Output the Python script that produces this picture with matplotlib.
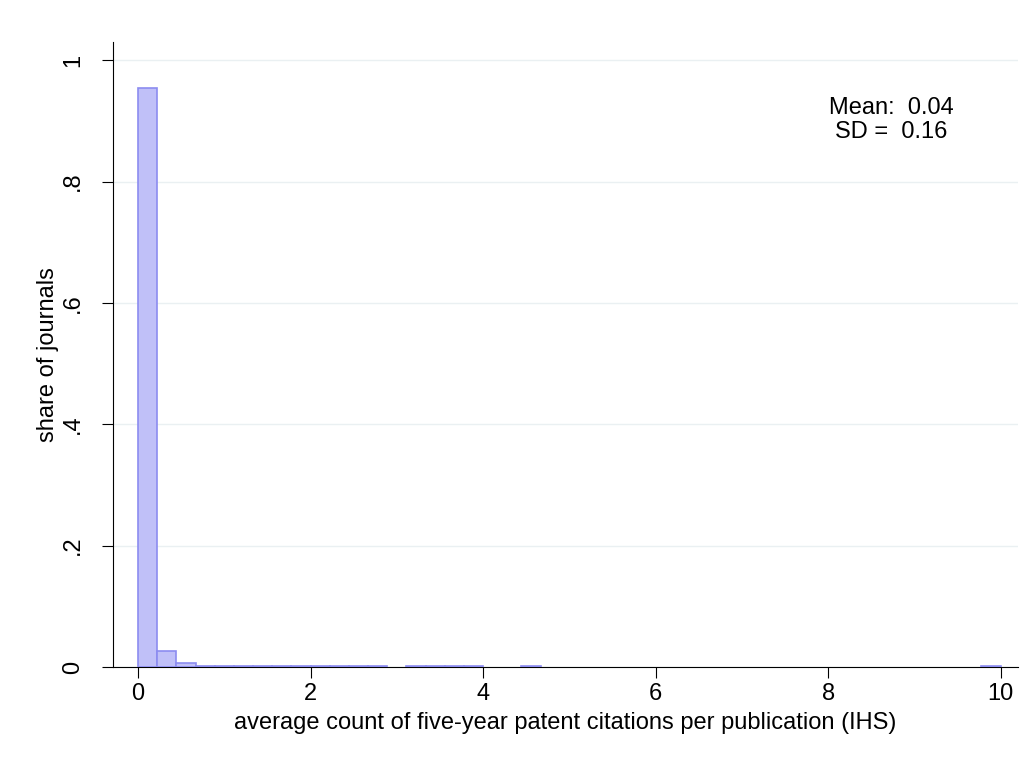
import numpy as np
import matplotlib.pyplot as plt

plt.rcParams['font.family'] = ['Liberation Sans', 'DejaVu Sans']

bin_width = 0.2222
bin_index = [0, 1, 2, 3, 4, 5, 6, 7, 8, 9, 10, 11, 12, 14, 15, 16, 17, 20, 44]
shares = [0.955, 0.026, 0.006, 0.002, 0.001, 0.001, 0.001, 0.001, 0.001, 0.001,
          0.001, 0.001, 0.001, 0.001, 0.001, 0.001, 0.001, 0.001, 0.001]

fig = plt.figure(figsize=(10.35, 7.64), dpi=100)
ax = fig.add_axes([113/1035, 1-667/764, (1018-113)/1035, (667-42)/764])

lefts = np.array(bin_index) * bin_width
ax.bar(lefts, shares, width=bin_width, align='edge', color='#c0c0f8',
       edgecolor='#8c8cf0', linewidth=1.2, zorder=3)

ax.set_xlim(-0.29, 10.2)
ax.set_ylim(0, 1.03)
ax.set_yticks([0, 0.2, 0.4, 0.6, 0.8, 1.0])
ax.set_yticklabels(['0', '.2', '.4', '.6', '.8', '1'], rotation=90, va='center')
ax.set_xticks([0, 2, 4, 6, 8, 10])
ax.grid(axis='y', color='#eaf0f2', linewidth=1, zorder=0)
for s in ['top', 'right']:
    ax.spines[s].set_visible(False)
ax.tick_params(labelsize=17, length=8)
ax.tick_params(axis='y', pad=13)
ax.set_xlabel('average count of five-year patent citations per publication (IHS)', fontsize=17, labelpad=5)
ax.set_ylabel('share of journals', fontsize=17, labelpad=2)
ax.text(0.86, 0.875, 'Mean:  0.04\nSD =  0.16', transform=ax.transAxes,
        ha='center', va='center', fontsize=17, linespacing=1.15)

fig.savefig('out.png')
